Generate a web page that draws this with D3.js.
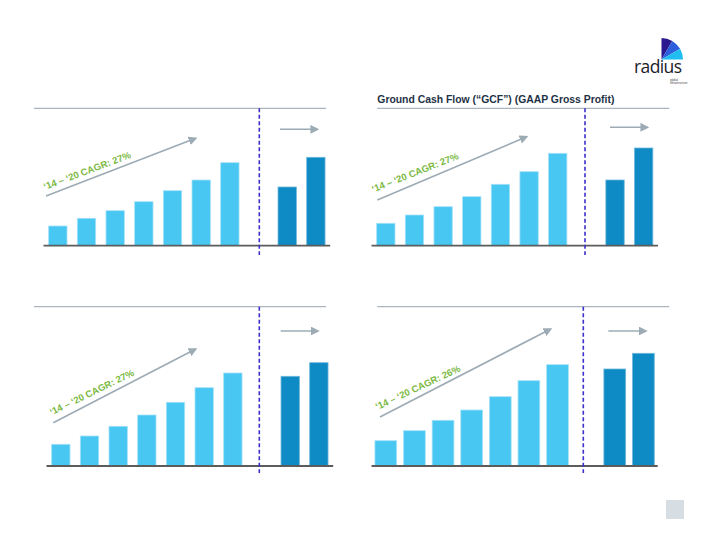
<!DOCTYPE html>
<html>
<head>
<meta charset="utf-8">
<script src="https://cdn.jsdelivr.net/npm/d3@7"></script>
<style>
  html, body { margin: 0; padding: 0; background: #ffffff; }
  svg { display: block; }
</style>
</head>
<body>
<svg id="chart" width="720" height="540"></svg>
<script>
// ---------------- DATA ----------------
const years = ["2014", "2015", "2016", "2017", "2018", "2019", "2020"];
const projections = ["P1", "P2"];
const gapSlot = ["gap"];

const panelTitles = ["", "Ground Cash Flow (\u201CGCF\u201D) (GAAP Gross Profit)", "", ""];
const cagrLabels = [
  "\u201814 \u2013 \u201820 CAGR: 27%",
  "\u201814 \u2013 \u201820 CAGR: 27%",
  "\u201814 \u2013 \u201820 CAGR: 27%",
  "\u201814 \u2013 \u201820 CAGR: 26%"
];

const historyValues1 = [19.7, 27.4, 35.0, 44.0, 55.0, 65.7, 83.0];
const projectionValues1 = [58.7, 88.4];
const historyValues2 = [22.4, 30.7, 39.0, 49.0, 61.4, 74.0, 92.4];
const projectionValues2 = [65.7, 97.7];
const historyValues3 = [21.7, 30.0, 39.7, 51.0, 63.7, 78.3, 93.0];
const projectionValues3 = [89.7, 103.3];
const historyValues4 = [25.3, 35.3, 45.7, 56.0, 69.3, 85.3, 101.3];
const projectionValues4 = [97.0, 112.7];

const yMax = 120;

// ---------------- LAYOUT ----------------
const panels = [
  { hist: historyValues1, proj: projectionValues1, title: panelTitles[0], label: cagrLabels[0],
    x0: 43.5, x1: 330.2, base: 245.7, topY: 108.3, topX0: 34, topX1: 326, dashX: 259.3, dashY1: 255,
    pad: 0.36, arrow: [46, 196, 195.7, 138.3], small: [280, 129.3, 317.5],
    text: [45, 190], rot: -20.5 },
  { hist: historyValues2, proj: projectionValues2, title: panelTitles[1], label: cagrLabels[1],
    x0: 371.5, x1: 658.0, base: 245.7, topY: 108.3, topX0: 377.3, topX1: 669.3, dashX: 585, dashY1: 255,
    pad: 0.36, arrow: [377.3, 200, 526.7, 136.7], small: [610, 127.3, 647.5],
    text: [373.3, 192.5], rot: -21.5 },
  { hist: historyValues3, proj: projectionValues3, title: panelTitles[2], label: cagrLabels[2],
    x0: 46.5, x1: 333.2, base: 466, topY: 306.7, topX0: 34, topX1: 326, dashX: 259.3, dashY1: 473,
    pad: 0.36, arrow: [53.3, 422.7, 195.7, 349], small: [280.7, 331, 318],
    text: [51.7, 415.5], rot: -26 },
  { hist: historyValues4, proj: projectionValues4, title: panelTitles[3], label: cagrLabels[3],
    x0: 371.5, x1: 657.7, base: 466, topY: 306.7, topX0: 377.3, topX1: 669.3, dashX: 583.3, dashY1: 473,
    pad: 0.24, arrow: [380, 417, 550.7, 329], small: [608.3, 331, 646],
    text: [377.3, 410], rot: -25 }
];

const svg = d3.select("#chart");

const defs = svg.append("defs");
defs.append("marker")
  .attr("id", "arrowHead")
  .attr("viewBox", "0 0 10 10")
  .attr("refX", 8).attr("refY", 5)
  .attr("markerWidth", 5.5).attr("markerHeight", 5.5)
  .attr("markerUnits", "strokeWidth")
  .attr("orient", "auto")
  .append("path")
  .attr("d", "M0,0 L10,5 L0,10 z")
  .attr("fill", "#9dabb5");

const lightColor = "#47c7f2";
const darkColor = "#0e8ac4";
const slots = years.concat(gapSlot, projections);

panels.forEach(p => {
  const g = svg.append("g");

  const x = d3.scaleBand()
    .domain(slots)
    .range([p.x0, p.x1])
    .paddingInner(p.pad)
    .paddingOuter(p.pad / 2);

  const y = d3.scaleLinear()
    .domain([0, yMax])
    .range([p.base, p.base - yMax]);

  // top rule
  g.append("line")
    .attr("x1", p.topX0).attr("x2", p.topX1)
    .attr("y1", p.topY).attr("y2", p.topY)
    .attr("stroke", "#aab5be").attr("stroke-width", 1.3);

  if (p.title) {
    g.append("text")
      .attr("x", p.topX0).attr("y", p.topY - 5.5)
      .attr("font-family", "Liberation Sans, Arial, sans-serif")
      .attr("font-weight", "bold")
      .attr("font-size", 10.4)
      .attr("fill", "#1e3246")
      .text(p.title);
  }

  const hist = years.map((c, i) => ({ c, v: p.hist[i] }));
  const proj = projections.map((c, i) => ({ c, v: p.proj[i] }));

  g.selectAll(".hbar").data(hist).join("rect")
    .attr("x", d => x(d.c))
    .attr("width", x.bandwidth())
    .attr("y", d => y(d.v))
    .attr("height", d => y(0) - y(d.v))
    .attr("fill", lightColor)
    .attr("stroke", "#a6e2f8").attr("stroke-width", 0.8);

  g.selectAll(".pbar").data(proj).join("rect")
    .attr("x", d => x(d.c))
    .attr("width", x.bandwidth())
    .attr("y", d => y(d.v))
    .attr("height", d => y(0) - y(d.v))
    .attr("fill", darkColor)
    .attr("stroke", "#6fb7dc").attr("stroke-width", 0.8);

  // baseline
  g.append("line")
    .attr("x1", p.x0).attr("x2", p.x1)
    .attr("y1", p.base).attr("y2", p.base)
    .attr("stroke", "#5c5c5c").attr("stroke-width", 1.8);

  // dashed divider
  g.append("line")
    .attr("x1", p.dashX).attr("x2", p.dashX)
    .attr("y1", p.topY).attr("y2", p.dashY1)
    .attr("stroke", "#3d2fc8").attr("stroke-width", 1.6)
    .attr("stroke-dasharray", "4,2.5");

  // trend arrow
  g.append("line")
    .attr("x1", p.arrow[0]).attr("y1", p.arrow[1])
    .attr("x2", p.arrow[2]).attr("y2", p.arrow[3])
    .attr("stroke", "#9dabb5").attr("stroke-width", 1.6)
    .attr("marker-end", "url(#arrowHead)");

  // small arrow
  g.append("line")
    .attr("x1", p.small[0]).attr("y1", p.small[1])
    .attr("x2", p.small[2]).attr("y2", p.small[1])
    .attr("stroke", "#9dabb5").attr("stroke-width", 1.6)
    .attr("marker-end", "url(#arrowHead)");

  // CAGR label
  g.append("text")
    .attr("transform", `translate(${p.text[0]},${p.text[1]}) rotate(${p.rot})`)
    .attr("font-family", "Liberation Sans, Arial, sans-serif")
    .attr("font-weight", "bold")
    .attr("font-size", 9.5)
    .attr("fill", "#7cb944")
    .text(p.label);
});

// ---------------- LOGO ----------------
const logo = svg.append("g").attr("transform", "translate(661.5,59.5)");
const wedgeColors = ["#2b1a8f", "#2d5fdc", "#20bdf0"];
const arcGen = d3.arc().innerRadius(0).outerRadius(21.5);
wedgeColors.forEach((c, i) => {
  logo.append("path")
    .attr("d", arcGen({ startAngle: i * Math.PI / 6, endAngle: (i + 1) * Math.PI / 6 }))
    .attr("fill", c);
});
svg.append("text")
  .attr("x", 634).attr("y", 73)
  .attr("font-family", "Open Sans, Lato, sans-serif")
  .attr("font-size", 17.5)
  .attr("fill", "#1b1b2a")
  .attr("textLength", 48)
  .text("radius");
svg.append("text")
  .attr("x", 670).attr("y", 80.5)
  .attr("font-family", "Liberation Sans, Arial, sans-serif")
  .attr("font-size", 3)
  .attr("fill", "#444")
  .text("global");
svg.append("text")
  .attr("x", 670).attr("y", 84)
  .attr("font-family", "Liberation Sans, Arial, sans-serif")
  .attr("font-size", 3)
  .attr("fill", "#444")
  .text("infrastructure");

// page number box
svg.append("rect")
  .attr("x", 666).attr("y", 500)
  .attr("width", 18).attr("height", 19)
  .attr("fill", "#d7dee3");
</script>
</body>
</html>
